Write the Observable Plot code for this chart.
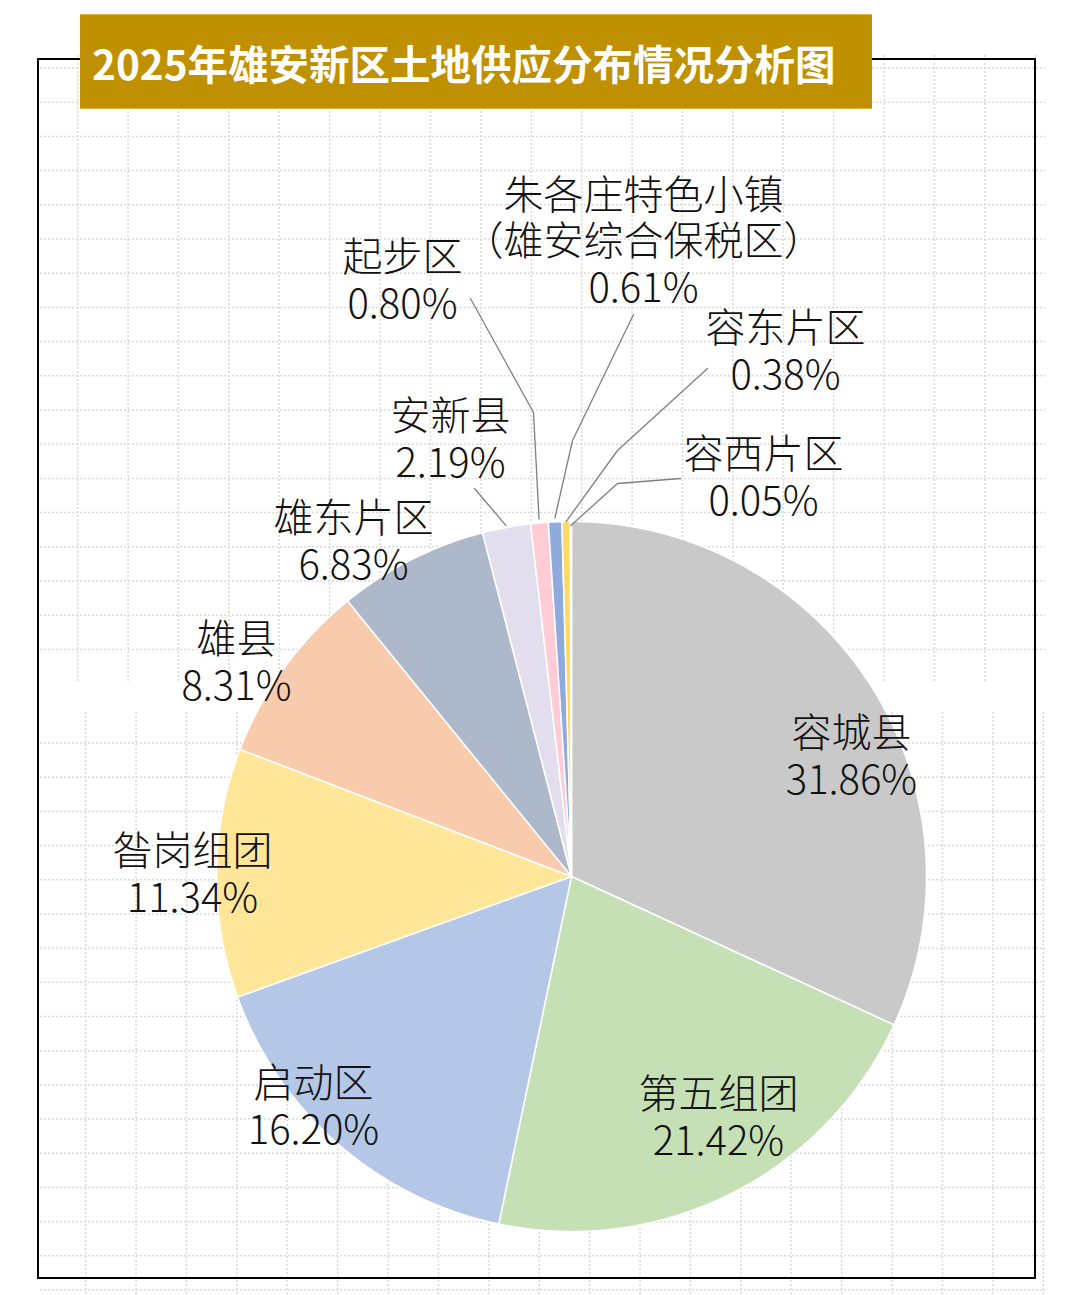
<!DOCTYPE html>
<html>
<head>
<meta charset="utf-8">
<script src="https://cdn.jsdelivr.net/npm/d3@7"></script>
<script src="https://cdn.jsdelivr.net/npm/@observablehq/plot@0.6"></script>
<style>
  html, body { margin: 0; padding: 0; background: #ffffff; }
  #wrap { position: relative; width: 1080px; height: 1295px; overflow: hidden; background: #ffffff; }
  #grid { position: absolute; left: 0; top: 0; }
  #frame { position: absolute; left: 37px; top: 58px; width: 995px; height: 1217px; border: 2.5px solid #000; }
  #chart { position: absolute; left: 0; top: 0; }
  #title {
    position: absolute; left: 80px; top: 14px; width: 792px; height: 95px;
    background: #BF9000; color: #ffffff;
    font-family: "Noto Sans CJK SC", "Noto Sans", sans-serif; font-weight: 700; font-size: 40.5px;
    line-height: 96px; padding-left: 12px; box-sizing: border-box; white-space: nowrap;
    border-top: 1px solid #d8b440; border-bottom: 1px solid #d8b440;
  }
</style>
</head>
<body>
<div id="wrap">
  <svg id="grid" width="1080" height="1295"></svg>
  <div id="frame"></div>
  <div id="chart"></div>
  <div id="title">2025年雄安新区土地供应分布情况分析图</div>
</div>
<script>
// ---------- data ----------
const names = ["容城县", "第五组团", "启动区", "昝岗组团", "雄县", "雄东片区", "安新县", "起步区", "朱各庄特色小镇\n（雄安综合保税区）", "容东片区", "容西片区"];
const shares = [31.86, 21.42, 16.20, 11.34, 8.31, 6.83, 2.19, 0.80, 0.61, 0.38, 0.05];
const pctLabels = ["31.86%", "21.42%", "16.20%", "11.34%", "8.31%", "6.83%", "2.19%", "0.80%", "0.61%", "0.38%", "0.05%"];
const colors = ["#C9C9C9", "#C5E0B4", "#B4C7E7", "#FFE699", "#F8CBAD", "#ADB9CA", "#E3DEEE", "#FFCCD5", "#8FAADC", "#FFD966", "#E2F0D9"];

// ---------- layout ----------
const W = 1080, H = 1295;
const CX = 571, CY = 876, R = 355;
const labelPos = [[851, 755], [718, 1116], [313, 1105], [192, 873], [236, 661], [353, 540], [450, 438], [402, 279], [643, 240], [785, 350], [763, 476]];
const leaderBends = {6: [[474, 488]], 7: [[470, 298], [533, 412]], 8: [[633, 314], [572, 440]], 9: [[707, 368], [617, 450]], 10: [[680, 478], [617, 483]]};
const leaderEndOffset = {6: 2, 7: 4, 8: 4, 9: 0, 10: -4};

// ---------- background grid (decoration) ----------
const g = d3.select("#grid");
function gridBlock(x0, xStep, y0, yStep, top, bottom, left, right) {
  const xs = d3.range(0, 30).map(k => x0 + xStep * k).filter(x => x <= right);
  const ys = d3.range(0, 30).map(k => y0 + yStep * k).filter(y => y <= bottom);
  g.append("g").selectAll("line").data(xs).join("line")
    .attr("x1", d => d).attr("x2", d => d).attr("y1", top).attr("y2", bottom);
  g.append("g").selectAll("line").data(ys).join("line")
    .attr("x1", left).attr("x2", right).attr("y1", d => d).attr("y2", d => d);
}
g.attr("stroke", "#dadada").attr("stroke-width", 1.5).attr("stroke-dasharray", "2 2");
gridBlock(77.7, 50.4, 68, 34.2, 55, 682, 40, 1045);
gridBlock(85.7, 50.4, 743, 34.19, 712, 1295, 40, 1045);

// ---------- slices from data ----------
const total = d3.sum(shares);
const toRad = Math.PI / 180;
let acc = 0;
const slices = shares.map((v, i) => {
  const a0 = acc / total * 360;
  acc += v;
  const a1 = acc / total * 360;
  return {i, name: names[i], a0, a1, mid: (a0 + a1) / 2};
});
const pt = (deg, r) => [CX + r * Math.sin(deg * toRad), CY - r * Math.cos(deg * toRad)];

const slicePoints = [];
for (const s of slices) {
  slicePoints.push({name: s.name, x: CX, y: CY});
  const n = Math.max(2, Math.ceil((s.a1 - s.a0) / 0.4));
  for (let k = 0; k <= n; k++) {
    const [x, y] = pt(s.a0 + (s.a1 - s.a0) * k / n, R);
    slicePoints.push({name: s.name, x, y});
  }
}

const leaderPoints = [];
for (const key of Object.keys(leaderBends)) {
  const i = +key;
  for (const [x, y] of leaderBends[i]) leaderPoints.push({name: names[i], x, y});
  const [ex, ey] = pt(slices[i].mid, R + leaderEndOffset[i]);
  leaderPoints.push({name: names[i], x: ex, y: ey});
}

const labels = slices.map(s => ({
  text: names[s.i] + "\n" + pctLabels[s.i],
  x: labelPos[s.i][0],
  y: labelPos[s.i][1]
}));

const chart = Plot.plot({
  width: W,
  height: H,
  margin: 0,
  style: {background: "transparent", overflow: "visible"},
  x: {domain: [0, W], range: [0, W], axis: null},
  y: {domain: [0, H], range: [0, H], axis: null},
  color: {domain: names, range: colors},
  marks: [
    Plot.line(slicePoints, {x: "x", y: "y", z: "name", fill: "name", stroke: "#ffffff", strokeWidth: 1.5, strokeLinejoin: "round", curve: "linear-closed"}),
    Plot.line(leaderPoints, {x: "x", y: "y", z: "name", stroke: "#7f7f7f", strokeWidth: 1.3}),
    Plot.text(labels, {x: "x", y: "y", text: "text", fontSize: 40, lineHeight: 1.17, fill: "#111111", fontWeight: 300, fontFamily: "'Noto Sans CJK SC', 'Noto Sans', sans-serif", textAnchor: "middle", lineAnchor: "middle"})
  ]
});
document.getElementById("chart").appendChild(chart);
</script>
</body>
</html>
